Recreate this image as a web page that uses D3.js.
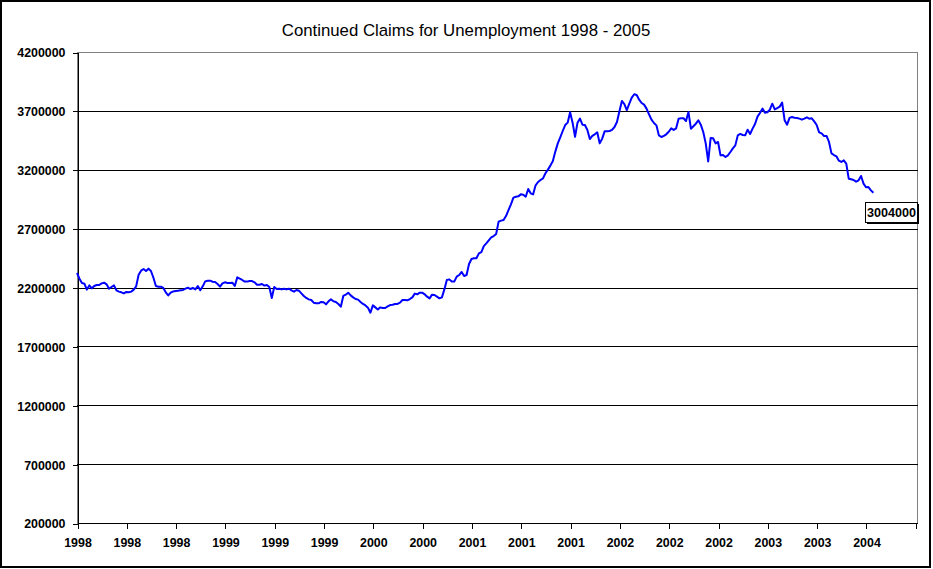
<!DOCTYPE html>
<html>
<head>
<meta charset="utf-8">
<script src="https://cdn.jsdelivr.net/npm/d3@7"></script>
<style>
  body { margin: 0; background: #fff; }
  svg { display: block; font-family: "Liberation Sans", Arial, sans-serif; }
  .axis text { font-size: 12.4px; font-weight: bold; fill: #000; }
  .axis line, .axis path { stroke: #000; shape-rendering: crispEdges; }
</style>
</head>
<body>
<svg id="chart" width="933" height="569"></svg>
<script>
// weekly continued claims, in thousands, Jan 1998 -> Mar 2004
var claims = [
  2323, 2275, 2238, 2232, 2182, 2218, 2193, 2213, 2221, 2221,
  2235, 2241, 2227, 2190, 2204, 2218, 2176, 2165, 2159, 2150,
  2162, 2159, 2165, 2182, 2210, 2309, 2343, 2357, 2340, 2360,
  2340, 2283, 2213, 2207, 2207, 2196, 2159, 2133, 2156, 2167,
  2170, 2173, 2176, 2179, 2190, 2198, 2187, 2196, 2184, 2213,
  2176, 2210, 2252, 2258, 2258, 2249, 2247, 2230, 2207, 2235,
  2244, 2238, 2238, 2241, 2213, 2286, 2275, 2264, 2250, 2250,
  2255, 2255, 2244, 2224, 2224, 2230, 2216, 2221, 2204, 2111,
  2204, 2187, 2190, 2184, 2190, 2184, 2190, 2176, 2165, 2179,
  2173, 2150, 2128, 2111, 2099, 2094, 2071, 2066, 2066, 2077,
  2074, 2057, 2083, 2099, 2083, 2077, 2060, 2037, 2128, 2139,
  2156, 2133, 2116, 2102, 2097, 2077, 2060, 2048, 2029, 1986,
  2048, 2031, 2014, 2031, 2026, 2026, 2040, 2051, 2054, 2060,
  2060, 2071, 2094, 2094, 2091, 2102, 2116, 2148, 2142, 2156,
  2156, 2142, 2122, 2108, 2139, 2136, 2122, 2108, 2116, 2184,
  2264, 2269, 2250, 2250, 2292, 2306, 2332, 2298, 2306, 2400,
  2442, 2448, 2448, 2490, 2501, 2552, 2575, 2601, 2626, 2637,
  2654, 2759, 2768, 2773, 2807, 2858, 2906, 2963, 2971, 2974,
  2991, 2988, 2971, 3036, 3000, 2991, 3068, 3096, 3113, 3127,
  3170, 3201, 3235, 3274, 3354, 3424, 3475, 3529, 3580, 3600,
  3688, 3600, 3480, 3600, 3634, 3583, 3580, 3538, 3461, 3487,
  3501, 3518, 3424, 3464, 3526, 3526, 3529, 3538, 3563, 3606,
  3696, 3784, 3758, 3707, 3761, 3812, 3841, 3835, 3795, 3767,
  3753, 3719, 3671, 3625, 3597, 3577, 3492, 3478, 3487, 3501,
  3523, 3552, 3538, 3552, 3634, 3637, 3637, 3614, 3690, 3549,
  3569, 3591, 3620, 3583, 3521, 3424, 3271, 3470, 3467, 3424,
  3436, 3322, 3325, 3308, 3322, 3351, 3382, 3407, 3492, 3504,
  3495, 3492, 3540, 3504, 3549, 3589, 3651, 3682, 3719, 3685,
  3688, 3710, 3761, 3713, 3724, 3736, 3770, 3620, 3583, 3640,
  3648, 3642, 3640, 3634, 3625, 3634, 3645, 3634, 3637, 3611,
  3580, 3518, 3509, 3487, 3487, 3436, 3339, 3325, 3314, 3277,
  3266, 3280, 3252, 3124, 3119, 3113, 3099, 3110, 3147, 3082,
  3051, 3053, 3025, 3004
];

var yTicks = [200000, 700000, 1200000, 1700000, 2200000, 2700000, 3200000, 3700000, 4200000];
var xLabels = ["1998", "1998", "1998", "1999", "1999", "1999", "2000", "2000", "2001",
               "2001", "2001", "2002", "2002", "2002", "2003", "2003", "2004"];
var weeksPerTick = 20;
var totalWeeks = 340;
var title = "Continued Claims for Unemployment 1998 - 2005";

var svg = d3.select("#chart");
var plot = {left: 77, top: 52, right: 917, bottom: 523};

var x = d3.scaleLinear().domain([0, totalWeeks]).range([plot.left, 915.3]);
var y = d3.scaleLinear().domain([200000, 4200000]).range([plot.bottom, plot.top]);

// outer frame
svg.append("rect")
  .attr("x", 1).attr("y", 1)
  .attr("width", 929).attr("height", 566)
  .attr("fill", "#fff")
  .attr("stroke", "#000")
  .attr("stroke-width", 2);

svg.append("text")
  .attr("x", 466)
  .attr("y", 36)
  .attr("text-anchor", "middle")
  .attr("font-size", "16.8px")
  .text(title);

// plot area border (grey top / right)
svg.append("rect")
  .attr("x", plot.left + 0.5).attr("y", plot.top + 0.5)
  .attr("width", plot.right - plot.left).attr("height", plot.bottom - plot.top)
  .attr("fill", "none")
  .attr("stroke", "#808080")
  .attr("shape-rendering", "crispEdges");

svg.append("g")
  .selectAll("line")
  .data(yTicks.slice(1, -1))
  .join("line")
  .attr("x1", plot.left).attr("x2", plot.right + 0.5)
  .attr("y1", function(d) { return Math.round(y(d)) + 0.5; })
  .attr("y2", function(d) { return Math.round(y(d)) + 0.5; })
  .attr("stroke", "#000")
  .attr("shape-rendering", "crispEdges");

var yAxis = svg.append("g")
  .attr("class", "axis")
  .attr("transform", "translate(" + (plot.left + 0.5) + ",0.5)")
  .call(d3.axisLeft(y).tickValues(yTicks).tickSize(5).tickPadding(7).tickFormat(d3.format("d")));
yAxis.selectAll("text").attr("dy", "0.36em");

var xAxis = svg.append("g")
  .attr("class", "axis")
  .attr("transform", "translate(0.5," + (plot.bottom + 0.5) + ")")
  .call(d3.axisBottom(x)
    .tickValues(d3.range(0, totalWeeks + 1, weeksPerTick))
    .tickSize(5).tickPadding(10).tickSizeOuter(0)
    .tickFormat(function(d, i) { return xLabels[i] || ""; }));
xAxis.select(".domain").attr("d", "M" + (plot.left) + ",0H" + (plot.right));

var line = d3.line()
  .x(function(d, i) { return x(i); })
  .y(function(d) { return y(d * 1000); });

svg.append("path")
  .datum(claims)
  .attr("fill", "none")
  .attr("stroke", "#0000ff")
  .attr("stroke-width", 2)
  .attr("stroke-linejoin", "round")
  .attr("d", line);

// data label on the last point
var last = claims[claims.length - 1] * 1000;
var lbl = svg.append("g").attr("transform", "translate(865,202)");
lbl.append("rect")
  .attr("x", 2).attr("y", 2).attr("width", 52).attr("height", 20)
  .attr("fill", "#000");
lbl.append("rect")
  .attr("x", 0.5).attr("y", 0.5).attr("width", 52).attr("height", 20)
  .attr("fill", "#fff").attr("stroke", "#000");
lbl.append("text")
  .attr("x", 26.5).attr("y", 10.5)
  .attr("dy", "0.36em")
  .attr("text-anchor", "middle")
  .attr("font-size", "12.6px")
  .attr("font-weight", "bold")
  .text(d3.format("d")(last));
</script>
</body>
</html>
